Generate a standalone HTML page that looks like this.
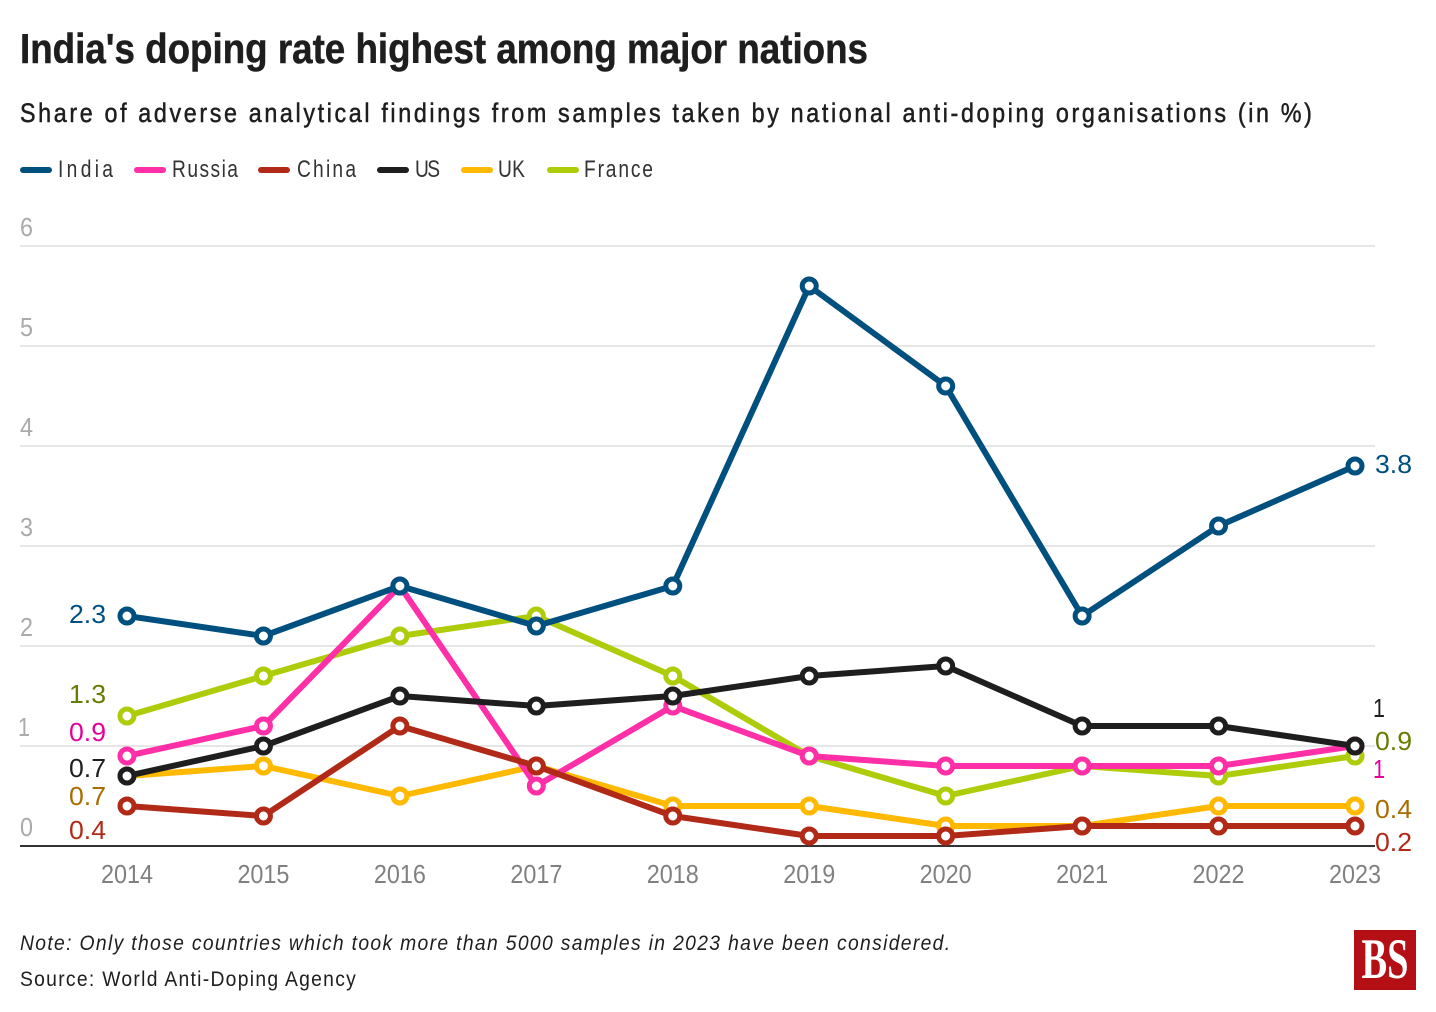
<!DOCTYPE html>
<html lang="en">
<head>
<meta charset="utf-8">
<title>India's doping rate highest among major nations</title>
<style>
html,body{margin:0;padding:0;background:#fff;width:1436px;height:1012px;overflow:hidden}
svg{display:block}
text{font-family:"Liberation Sans",sans-serif}
</style>
</head>
<body>
<svg id="chart" xmlns="http://www.w3.org/2000/svg" width="1436" height="1012" viewBox="0 0 1436 1012">
  <rect x="0" y="0" width="1436" height="1012" fill="#fff"/>
  <text x="20" y="63" font-size="42" font-weight="700" fill="#1e1e1e" stroke="#1e1e1e" stroke-width="0.5" textLength="848" lengthAdjust="spacingAndGlyphs">India's doping rate highest among major nations</text>
  <text transform="translate(20,122) scale(0.88,1)" x="0" y="0" font-size="26.5" fill="#1e1e1e" stroke="#1e1e1e" stroke-width="0.5" textLength="1468" lengthAdjust="spacing">Share of adverse analytical findings from samples taken by national anti-doping organisations (in %)</text>
  <g id="legend"></g>
  <g id="grid"></g>
  <g id="ylabels"></g>
  <g id="xlabels"></g>
  <g id="series"></g>
  <g id="labels"></g>
  <text transform="translate(20,950) scale(0.92,1)" x="0" y="0" font-size="21" font-style="italic" fill="#1e1e1e" textLength="1011" lengthAdjust="spacing">Note: Only those countries which took more than 5000 samples in 2023 have been considered.</text>
  <text transform="translate(20,986) scale(0.92,1)" x="0" y="0" font-size="21" fill="#1e1e1e" textLength="365" lengthAdjust="spacing">Source: World Anti-Doping Agency</text>
  <g>
    <rect x="1354" y="930" width="62" height="60" fill="#b50f16"/>
    <text x="1385" y="978" font-size="57" font-weight="700" fill="#fff" text-anchor="middle" textLength="47" lengthAdjust="spacingAndGlyphs" style="font-family:'Liberation Serif',serif">BS</text>
  </g>
</svg>
<script>
const years = ["2014","2015","2016","2017","2018","2019","2020","2021","2022","2023"];
const yTicks = [0,1,2,3,4,5,6];
const indiaValues = [2.3,2.1,2.6,2.2,2.6,5.6,4.6,2.3,3.2,3.8];
const russiaValues = [0.9,1.2,2.6,0.6,1.4,0.9,0.8,0.8,0.8,1.0];
const chinaValues = [0.4,0.3,1.2,0.8,0.3,0.1,0.1,0.2,0.2,0.2];
const usValues = [0.7,1.0,1.5,1.4,1.5,1.7,1.8,1.2,1.2,1.0];
const ukValues = [0.7,0.8,0.5,0.8,0.4,0.4,0.2,0.2,0.4,0.4];
const franceValues = [1.3,1.7,2.1,2.3,1.7,0.9,0.5,0.8,0.7,0.9];

const SVGNS = "http://www.w3.org/2000/svg";
const plotLeft = 127, plotRight = 1355, yZero = 846, yUnit = 100;
function xScale(i){ return plotLeft + i * (plotRight - plotLeft) / (years.length - 1); }
function yScale(v){ return yZero - v * yUnit; }
function make(tag, parent){
  const el = document.createElementNS(SVGNS, tag);
  parent.appendChild(el);
  return el;
}
function textWidth(s){
  if (s.length === 1 && s === "1") return 12;
  let w = 0;
  for (const c of s) w += (c === "." ? 10 : 13.5);
  return w;
}
function fmt(v){ return String(Math.round(v * 10) / 10); }

// Legend order
const legendEntries = [
  {name:"India",  color:"#00507f", sx:20,  tx:58,  tw:55},
  {name:"Russia", color:"#ff2fa8", sx:134, tx:172, tw:66},
  {name:"China",  color:"#b02a17", sx:258, tx:297, tw:59},
  {name:"US",     color:"#1e1e1e", sx:377, tx:415, tw:25},
  {name:"UK",     color:"#ffb900", sx:461, tx:498, tw:27},
  {name:"France", color:"#aecc0a", sx:547, tx:584, tw:69}
];
const legendSqueeze = 0.8;
const legendG = document.getElementById("legend");
legendEntries.forEach(function(e){
  const sw = make("line", legendG);
  
  
  sw.setAttribute("x1", e.sx + 3); sw.setAttribute("x2", e.sx + 29);
  sw.setAttribute("y1", 170); sw.setAttribute("y2", 170);
  sw.setAttribute("stroke", e.color); sw.setAttribute("stroke-width", 6);
  sw.setAttribute("stroke-linecap", "round");
  const t = make("text", legendG);
  
  
  t.setAttribute("transform", "translate(" + e.tx + ",177) scale(" + legendSqueeze + ",1)");
  t.setAttribute("font-size", 24); t.setAttribute("fill", "#333");
  t.setAttribute("textLength", e.tw / legendSqueeze); t.setAttribute("lengthAdjust", "spacing");
  t.textContent = e.name;
});

// Grid and y labels
const gridG = document.getElementById("grid");
const yG = document.getElementById("ylabels");
yTicks.forEach(function(v){
  const l = make("line", gridG);
  
  
  l.setAttribute("x1", 20); l.setAttribute("x2", 1375);
  l.setAttribute("y1", yScale(v)); l.setAttribute("y2", yScale(v));
  l.setAttribute("stroke", v === 0 ? "#333" : "#e6e6e6");
  l.setAttribute("stroke-width", 2);
  const t = make("text", yG);
  
  
  t.setAttribute("x", v === 1 ? 18 : 20); t.setAttribute("y", yScale(v) - 10);
  t.setAttribute("font-size", 26); t.setAttribute("fill", "#aaa");
  t.setAttribute("textLength", v === 1 ? 12 : 13); t.setAttribute("lengthAdjust", "spacingAndGlyphs");
  t.textContent = String(v);
});

// X labels
const xG = document.getElementById("xlabels");
years.forEach(function(y, i){
  const t = make("text", xG);
  
  
  t.setAttribute("x", xScale(i) - 26); t.setAttribute("y", 883);
  t.setAttribute("font-size", 26); t.setAttribute("fill", "#808080");
  t.setAttribute("textLength", 52); t.setAttribute("lengthAdjust", "spacingAndGlyphs");
  t.textContent = y;
});

// Series (paint order: bottom to top)
const seriesDraw = [
  {name:"france", values:franceValues, color:"#aecc0a", label:"#637d00", left:-21, right:-14},
  {name:"uk",     values:ukValues,     color:"#ffb900", label:"#a86c00", left:21,  right:4},
  {name:"russia", values:russiaValues, color:"#ff2fa8", label:"#e6009a", left:-23, right:24},
  {name:"china",  values:chinaValues,  color:"#b02a17", label:"#b02a17", left:25,  right:17},
  {name:"us",     values:usValues,     color:"#1e1e1e", label:"#1e1e1e", left:-7,  right:-37},
  {name:"india",  values:indiaValues,  color:"#00507f", label:"#00507f", left:-1,  right:-1}
];
const seriesG = document.getElementById("series");
const labelsG = document.getElementById("labels");
seriesDraw.forEach(function(s){
  const g = make("g", seriesG);
  
  
  const p = make("polyline", g);
  
  
  p.setAttribute("points", s.values.map(function(v, i){ return xScale(i) + "," + yScale(v); }).join(" "));
  p.setAttribute("fill", "none");
  p.setAttribute("stroke", s.color);
  p.setAttribute("stroke-width", 6);
  p.setAttribute("stroke-linejoin", "round");
  s.values.forEach(function(v, i){
    const c = make("circle", g);
    
    
    c.setAttribute("cx", xScale(i)); c.setAttribute("cy", yScale(v));
    c.setAttribute("r", 7);
    c.setAttribute("fill", "#fff");
    c.setAttribute("stroke", s.color);
    c.setAttribute("stroke-width", 5);
  });
  const first = fmt(s.values[0]);
  const tl = make("text", labelsG);
  
  
  tl.setAttribute("x", 106 - textWidth(first));
  tl.setAttribute("y", yScale(s.values[0]) + s.left + 8);
  tl.setAttribute("font-size", 26); tl.setAttribute("fill", s.label);
  tl.setAttribute("textLength", textWidth(first)); tl.setAttribute("lengthAdjust", "spacingAndGlyphs");
  tl.textContent = first;
  const last = fmt(s.values[s.values.length - 1]);
  const tr = make("text", labelsG);
  
  
  tr.setAttribute("x", last === "1" ? 1373 : 1375);
  tr.setAttribute("y", yScale(s.values[s.values.length - 1]) + s.right + 8);
  tr.setAttribute("font-size", 26); tr.setAttribute("fill", s.label);
  tr.setAttribute("textLength", textWidth(last)); tr.setAttribute("lengthAdjust", "spacingAndGlyphs");
  tr.textContent = last;
});
</script>
</body>
</html>
